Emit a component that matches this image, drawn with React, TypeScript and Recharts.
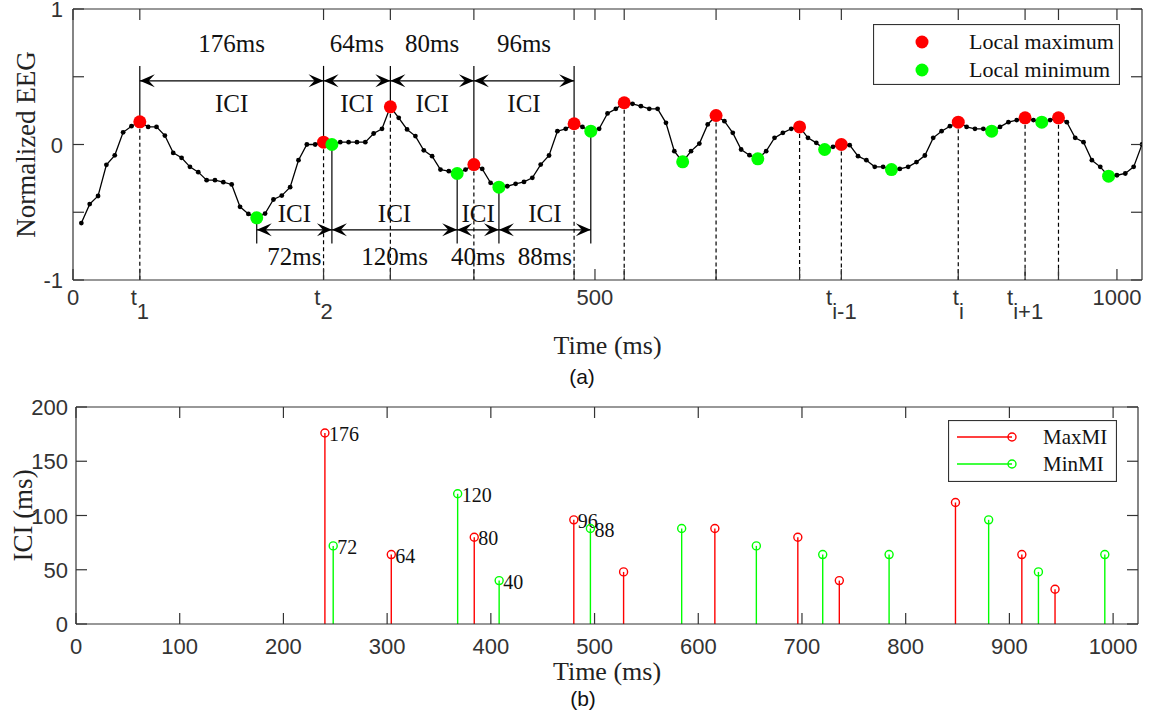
import React from "react";
import { ComposedChart, Line, Scatter, XAxis, YAxis, ReferenceLine, Legend, Label } from "recharts";

const SAMPLE_MS = 8;

// normalized EEG, one sample every 8 ms (8 ... 1024 ms)
const eegValues = [
  -0.58, -0.44, -0.38, -0.15, -0.08, 0.09, 0.135, 0.167,
  0.13, 0.13, 0.066, -0.062, -0.098, -0.165, -0.204, -0.263,
  -0.263, -0.278, -0.295, -0.46, -0.512, -0.541, -0.51, -0.406,
  -0.377, -0.315, -0.116, 0.0, 0.0, 0.017, 0.0, 0.017,
  0.017, 0.017, 0.017, 0.081, 0.116, 0.278, 0.197, 0.111,
  0.062, -0.043, -0.086, -0.185, -0.197, -0.214, -0.185, -0.148,
  -0.18, -0.283, -0.315, -0.308, -0.29, -0.276, -0.246, -0.148,
  -0.081, 0.098, 0.116, 0.153, 0.13, 0.098, 0.116, 0.229,
  0.263, 0.308, 0.3, 0.283, 0.263, 0.263, 0.16, -0.049,
  -0.128, -0.049, 0.007, 0.148, 0.214, 0.172, 0.086, -0.037,
  -0.079, -0.106, -0.049, 0.049, 0.086, 0.116, 0.13, 0.049,
  0.012, -0.037, -0.017, 0.0, -0.005, -0.086, -0.116, -0.165,
  -0.165, -0.185, -0.18, -0.165, -0.13, -0.081, 0.049, 0.098,
  0.135, 0.165, 0.13, 0.116, 0.116, 0.098, 0.13, 0.165,
  0.18, 0.197, 0.18, 0.165, 0.18, 0.197, 0.165, 0.049,
  0.017, -0.116, -0.165, -0.234, -0.227, -0.214, -0.165, 0.0,
];

const maxTimes = [64, 240, 304, 384, 480, 528, 616, 696, 736, 848, 912, 944];
const minTimes = [176, 248, 368, 408, 496, 584, 656, 720, 784, 880, 928, 992];
const annotatedMaxTimes = [64, 240, 304, 384, 480];
const annotatedMinTimes = [176, 248, 368, 408, 496];

const topXTicks = [0, 64, 240, 304, 384, 480, 500, 528, 616, 696, 736, 848, 912, 944, 1000];
const topXTickLabels = ["0", "t_1", "t_2", "", "", "", "500", "", "", "", "t_i-1", "t_i", "t_i+1", "", "1000"];
const topYTicks = [-1, -0.5, 0, 0.5, 1];
const topYTickLabels = ["-1", "", "0", "", "1"];

// ICI stems (panel b)
const maxMITimes = [240, 304, 384, 480, 528, 616, 696, 736, 848, 912, 944];
const maxMIValues = [176, 64, 80, 96, 48, 88, 80, 40, 112, 64, 32];
const minMITimes = [248, 368, 408, 496, 584, 656, 720, 784, 880, 928, 992];
const minMIValues = [72, 120, 40, 88, 88, 72, 64, 64, 96, 48, 64];
const labeledStemTimes = [240, 248, 304, 368, 384, 408, 480, 496];

const bottomXTicks = [0, 100, 200, 300, 400, 500, 600, 700, 800, 900, 1000];
const bottomYTicks = [0, 50, 100, 150, 200];

const RED = "#ff0000";
const GREEN = "#00ff00";
const AXIS = "#333333";
const SANS = "'Liberation Sans', Arial, sans-serif";
const SERIF = "'Liberation Serif', 'Times New Roman', serif";
const TICK_LEN = 11;

// where the annotation arrows / guides sit, in EEG units
const ARROW_UPPER = 0.47;
const ARROW_LOWER = -0.63;
const GUIDE_UPPER = 0.58;
const GUIDE_LOWER = -0.73;

const valueAt = (t: number) => eegValues[t / SAMPLE_MS - 1];
const eegData = eegValues.map((v, i) => ({ t: (i + 1) * SAMPLE_MS, v }));
const maxPoints = maxTimes.map((t) => ({ t, v: valueAt(t) }));
const minPoints = minTimes.map((t) => ({ t, v: valueAt(t) }));
const pairs = (arr: number[]) => arr.slice(1).map((b, i) => [arr[i], b]);

const maxStems = maxMITimes.map((t, i) => ({ t, v: maxMIValues[i] }));
const minStems = minMITimes.map((t, i) => ({ t, v: minMIValues[i] }));

const bottomTick = (ticks: number[], labels: string[] | null, labelDy: number) => (p: any) => {
  const i = ticks.indexOf(p.payload.value);
  const lab = labels ? labels[i] : String(p.payload.value);
  const [base, sub] = (lab || "").split("_");
  return (
    <g>
      <line x1={p.x} y1={p.y} x2={p.x} y2={p.y - TICK_LEN} stroke={AXIS} strokeWidth={1.2} />
      {base && (
        <text x={p.x} y={p.y + labelDy} textAnchor="middle" fontFamily={SANS} fontSize={22} fill={AXIS}>
          {base}
          {sub && <tspan dy={14}>{sub}</tspan>}
        </text>
      )}
    </g>
  );
};

const topTick = (p: any) => (
  <line x1={p.x} y1={p.y} x2={p.x} y2={p.y + TICK_LEN} stroke={AXIS} strokeWidth={1.2} />
);

const leftTick = (ticks: number[], labels: string[] | null, gap: number) => (p: any) => {
  const i = ticks.indexOf(p.payload.value);
  const lab = labels ? labels[i] : String(p.payload.value);
  return (
    <g>
      <line x1={p.x} y1={p.y} x2={p.x + TICK_LEN} y2={p.y} stroke={AXIS} strokeWidth={1.2} />
      {lab && (
        <text x={p.x - gap} y={p.y + 8} textAnchor="end" fontFamily={SANS} fontSize={22} fill={AXIS}>
          {lab}
        </text>
      )}
    </g>
  );
};

const rightTick = (p: any) => (
  <line x1={p.x} y1={p.y} x2={p.x - TICK_LEN} y2={p.y} stroke={AXIS} strokeWidth={1.2} />
);

function DoubleArrow(props: any) {
  const { x1, y1, x2, above, below, aboveDy, belowDy } = props;
  const y = y1;
  const L = 15, W = 6.5, N = 9;
  const left = `M${x1},${y} L${x1 + L},${y - W} L${x1 + N},${y} L${x1 + L},${y + W} Z`;
  const right = `M${x2},${y} L${x2 - L},${y - W} L${x2 - N},${y} L${x2 - L},${y + W} Z`;
  const mx = (x1 + x2) / 2;
  return (
    <g>
      <line x1={x1} y1={y} x2={x2} y2={y} stroke="#000" strokeWidth={1.3} />
      <path d={left} fill="#000" />
      <path d={right} fill="#000" />
      <text x={mx} y={y + aboveDy} textAnchor="middle" fontFamily={SERIF} fontSize={25} fill="#111">{above}</text>
      <text x={mx} y={y + belowDy} textAnchor="middle" fontFamily={SERIF} fontSize={25} fill="#111">{below}</text>
    </g>
  );
}

const yTitle = (text: string, offset: number) => (p: any) => {
  const vb = p.viewBox || { x: 0, y: 0, height: 0 };
  const cx = vb.x - offset;
  const cy = vb.y + vb.height / 2;
  return (
    <text transform={`translate(${cx},${cy}) rotate(-90)`} textAnchor="middle" fontFamily={SERIF} fontSize={27} fill="#222">
      {text}
    </text>
  );
};

// small black sample dots; the extrema get the big coloured dots instead
const eegDot = (p: any) => {
  const t = p.payload.t;
  if (maxTimes.includes(t) || minTimes.includes(t)) return <g key={`e${t}`} />;
  return <circle key={`e${t}`} cx={p.cx} cy={p.cy} r={2.4} fill="#000" />;
};

function TopLegend() {
  return (
    <svg width={247} height={61} style={{ display: "block" }}>
      <rect x={0.5} y={0.5} width={246} height={60} fill="#fff" stroke={AXIS} strokeWidth={1.2} />
      <circle cx={49} cy={18} r={6.5} fill={RED} />
      <text x={96} y={25} fontFamily={SERIF} fontSize={22} fill="#111">Local maximum</text>
      <circle cx={49} cy={46} r={6.5} fill={GREEN} />
      <text x={96} y={53} fontFamily={SERIF} fontSize={22} fill="#111">Local minimum</text>
    </svg>
  );
}

function BottomLegend() {
  return (
    <svg width={169} height={62} style={{ display: "block" }}>
      <rect x={0.5} y={0.5} width={168} height={61} fill="#fff" stroke={AXIS} strokeWidth={1.2} />
      <line x1={9} y1={17} x2={64} y2={17} stroke={RED} strokeWidth={1.4} />
      <circle cx={64} cy={17} r={4} fill="none" stroke={RED} strokeWidth={1.4} />
      <text x={95} y={24} fontFamily={SERIF} fontSize={21} fill="#111">MaxMI</text>
      <line x1={9} y1={44} x2={64} y2={44} stroke={GREEN} strokeWidth={1.4} />
      <circle cx={64} cy={44} r={4} fill="none" stroke={GREEN} strokeWidth={1.4} />
      <text x={95} y={51} fontFamily={SERIF} fontSize={21} fill="#111">MinMI</text>
    </svg>
  );
}

const stemShape = (color: string) => (p: any) => (
  <g>
    <circle cx={p.cx} cy={p.cy} r={4} fill="none" stroke={color} strokeWidth={1.4} />
    {labeledStemTimes.includes(p.payload.t) && (
      <text x={p.cx + 4} y={p.cy + 8} fontFamily={SERIF} fontSize={20} fill="#111">{p.payload.v}</text>
    )}
  </g>
);

const axisProps = {
  tickSize: 0,
  tickMargin: 0,
  tickLine: false,
  interval: 0 as const,
  allowDataOverflow: true,
  axisLine: { stroke: AXIS, strokeWidth: 1.2 },
};

export default function App() {
  return (
    <div style={{ position: "absolute", left: 0, top: 0, width: 1149, height: 717, background: "#fff" }}>
      <div style={{ position: "absolute", left: 0, top: 0 }}>
        <ComposedChart width={1149} height={380} margin={{ top: 8, right: 6, bottom: 99, left: 72 }}>
          <XAxis type="number" dataKey="t" domain={[0, 1024]} ticks={topXTicks} height={1} {...axisProps}
            tick={bottomTick(topXTicks, topXTickLabels, 25)}>
            <Label value="Time (ms)" position="bottom" offset={55} fontFamily={SERIF} fontSize={26} fill="#222" />
          </XAxis>
          <XAxis xAxisId="top" orientation="top" type="number" dataKey="t" domain={[0, 1024]} ticks={topXTicks}
            height={1} {...axisProps} tick={topTick} />
          <YAxis type="number" dataKey="v" domain={[-1, 1]} ticks={topYTicks} width={1} {...axisProps}
            tick={leftTick(topYTicks, topYTickLabels, 10)}>
            <Label content={yTitle("Normalized EEG", 37)} />
          </YAxis>
          <YAxis yAxisId="right" orientation="right" type="number" domain={[-1, 1]} ticks={topYTicks}
            width={1} {...axisProps} tick={rightTick} />
          <Legend layout="horizontal" verticalAlign="middle" align="center"
            wrapperStyle={{ left: 873, top: 24, width: 247, height: 61 }} content={() => <TopLegend />} />

          {maxPoints.map((p) => (
            <ReferenceLine key={`d${p.t}`} segment={[{ x: p.t, y: p.v }, { x: p.t, y: -1 }]}
              stroke="#000" strokeWidth={1.2} strokeDasharray="4 3" ifOverflow="visible" />
          ))}
          {annotatedMaxTimes.map((t) => (
            <ReferenceLine key={`u${t}`} segment={[{ x: t, y: valueAt(t) }, { x: t, y: GUIDE_UPPER }]}
              stroke="#000" strokeWidth={1.2} ifOverflow="visible" />
          ))}
          {annotatedMinTimes.map((t) => (
            <ReferenceLine key={`l${t}`} segment={[{ x: t, y: valueAt(t) }, { x: t, y: GUIDE_LOWER }]}
              stroke="#000" strokeWidth={1.2} ifOverflow="visible" />
          ))}
          {pairs(annotatedMaxTimes).map(([a, b]) => (
            <ReferenceLine key={`au${a}`} segment={[{ x: a, y: ARROW_UPPER }, { x: b, y: ARROW_UPPER }]}
              ifOverflow="visible"
              shape={(p: any) => <DoubleArrow {...p} above={`${b - a}ms`} below="ICI" aboveDy={-29} belowDy={31} />} />
          ))}
          {pairs(annotatedMinTimes).map(([a, b]) => (
            <ReferenceLine key={`al${a}`} segment={[{ x: a, y: ARROW_LOWER }, { x: b, y: ARROW_LOWER }]}
              ifOverflow="visible"
              shape={(p: any) => <DoubleArrow {...p} above="ICI" below={`${b - a}ms`} aboveDy={-8} belowDy={35} />} />
          ))}

          <Line data={eegData} dataKey="v" type="linear" stroke="#000" strokeWidth={1.3}
            dot={eegDot} activeDot={false} isAnimationActive={false} />
          <Scatter name="Local maximum" data={maxPoints} dataKey="v" fill={RED} isAnimationActive={false}
            shape={(p: any) => <circle cx={p.cx} cy={p.cy} r={6.5} fill={RED} />} />
          <Scatter name="Local minimum" data={minPoints} dataKey="v" fill={GREEN} isAnimationActive={false}
            shape={(p: any) => <circle cx={p.cx} cy={p.cy} r={6.5} fill={GREEN} />} />
        </ComposedChart>
      </div>

      <div style={{ position: "absolute", left: 0, top: 380 }}>
        <ComposedChart width={1149} height={337} margin={{ top: 26, right: 10, bottom: 92, left: 75 }}>
          <XAxis type="number" dataKey="t" domain={[0, 1024]} ticks={bottomXTicks} height={1} {...axisProps}
            tick={bottomTick(bottomXTicks, null, 30)}>
            <Label value="Time (ms)" position="bottom" offset={37} fontFamily={SERIF} fontSize={26} fill="#222" />
          </XAxis>
          <XAxis xAxisId="top" orientation="top" type="number" dataKey="t" domain={[0, 1024]} ticks={bottomXTicks}
            height={1} {...axisProps} tick={topTick} />
          <YAxis type="number" dataKey="v" domain={[0, 200]} ticks={bottomYTicks} width={1} {...axisProps}
            tick={leftTick(bottomYTicks, null, 8)}>
            <Label content={yTitle("ICI (ms)", 43)} />
          </YAxis>
          <YAxis yAxisId="right" orientation="right" type="number" domain={[0, 200]} ticks={bottomYTicks}
            width={1} {...axisProps} tick={rightTick} />
          <Legend layout="horizontal" verticalAlign="middle" align="center"
            wrapperStyle={{ left: 948, top: 40, width: 169, height: 62 }} content={() => <BottomLegend />} />

          {maxStems.map((s) => (
            <ReferenceLine key={`rs${s.t}`} segment={[{ x: s.t, y: 0 }, { x: s.t, y: s.v }]}
              stroke={RED} strokeWidth={1.4} ifOverflow="visible" />
          ))}
          {minStems.map((s) => (
            <ReferenceLine key={`gs${s.t}`} segment={[{ x: s.t, y: 0 }, { x: s.t, y: s.v }]}
              stroke={GREEN} strokeWidth={1.4} ifOverflow="visible" />
          ))}
          <Scatter name="MaxMI" data={maxStems} dataKey="v" fill={RED} isAnimationActive={false} shape={stemShape(RED)} />
          <Scatter name="MinMI" data={minStems} dataKey="v" fill={GREEN} isAnimationActive={false} shape={stemShape(GREEN)} />
        </ComposedChart>
      </div>

      <svg width={1149} height={717} style={{ position: "absolute", left: 0, top: 0, pointerEvents: "none" }}>
        <text x={582} y={384} textAnchor="middle" fontFamily={SANS} fontSize={21} fill="#111">(a)</text>
        <text x={583} y={706} textAnchor="middle" fontFamily={SANS} fontSize={21} fill="#111">(b)</text>
      </svg>
    </div>
  );
}
